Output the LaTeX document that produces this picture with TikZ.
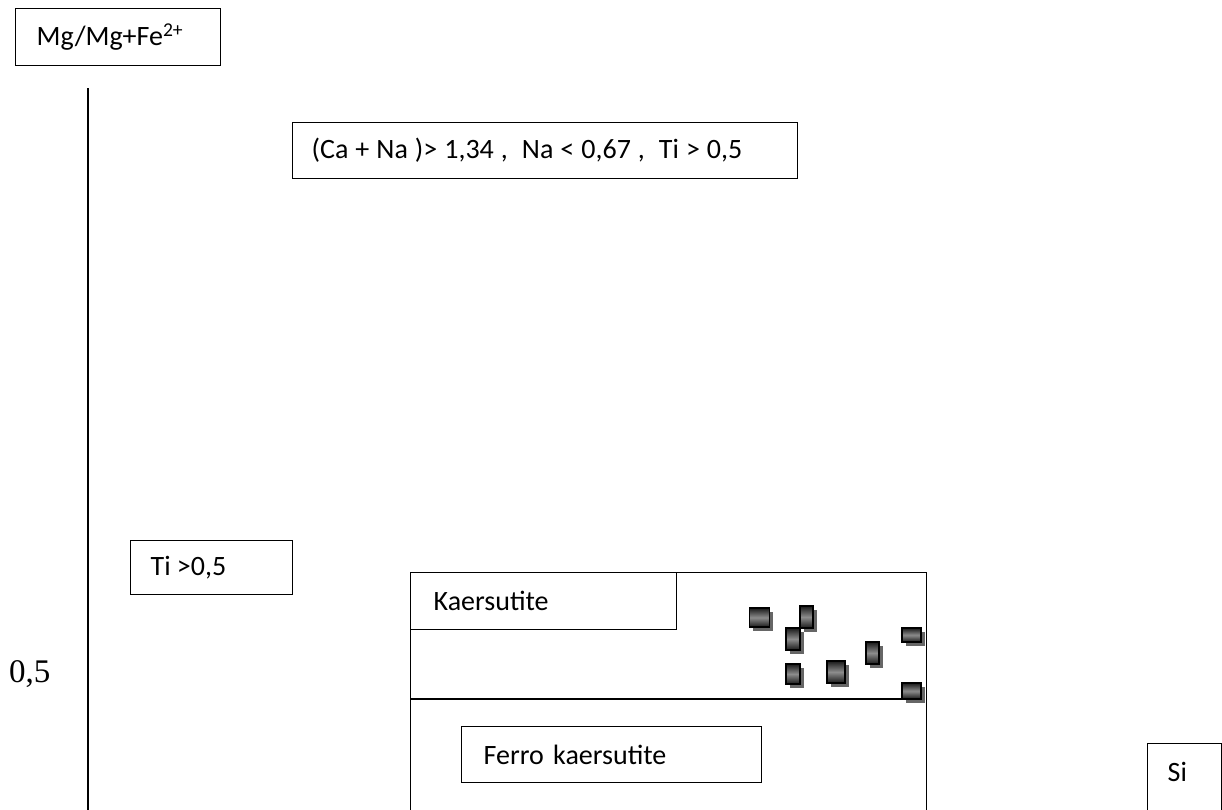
\documentclass[tikz,border=0pt]{standalone}
\usepackage{fontspec}
\setmainfont{Carlito}
\newfontfamily\axisfont{Liberation Serif}
\usetikzlibrary{shadows}

\begin{document}
\begin{tikzpicture}[x=1pt,y=-1pt,
  label box/.style={draw, line width=1.3pt, rectangle, anchor=north west,
    align=left, inner ysep=0pt, font=\fontsize{28}{32}\selectfont},
  frame/.style={draw, line width=1.3pt, rectangle, anchor=north west, inner sep=0pt},
  sample/.style={draw, line width=1.9pt, inner sep=0pt,
    top color=black!90, bottom color=black!90, middle color=black!45,
    drop shadow={shadow xshift=3.5pt, shadow yshift=-3.5pt, fill=black!60, opacity=1}},
  axis line/.style={line width=1.3pt}]

\useasboundingbox (0,0) rectangle (1222,809);
\fill[white] (0,0) rectangle (1222,809);
\clip (0,0) rectangle (1222,809);

% y-axis title and axis
\node[label box, inner xsep=21pt, text width=163pt, minimum height=57pt] (ytitle) at (15,8)
  {Mg/Mg+Fe\textsuperscript{2+}};
\coordinate (axtop) at (88,88);
\coordinate (axbot) at (88,820);
\draw[axis line] (axtop) -- (axbot);
\node[font=\axisfont\fontsize{33}{36}\selectfont, anchor=base west, inner sep=0pt] (half) at (9,682) {0,5};

% conditions
\node[label box, inner xsep=19pt, text width=467pt, minimum height=56pt] (cond) at (292,122)
  {\spaceskip=0.25em\relax (Ca + Na )> 1,34 ,\ \ Na < 0,67 ,\ \ Ti > 0,5};
\node[label box, inner xsep=20pt, text width=122pt, minimum height=54pt] (ti) at (130,540)
  {\spaceskip=0.22em\relax Ti >0,5};

% classification field
\node[frame, minimum width=516pt, minimum height=300pt] (field) at (410,572) {};
\node[label box, inner xsep=23pt, text width=220pt, minimum height=57pt] (kaer) at (410,572)
  {Kaersutite};
\node[label box, inner xsep=22pt, text width=256pt, minimum height=56pt] (ferro) at (461,726)
  {Ferro kaersutite};

% x-axis label
\node[label box, inner xsep=20pt, text width=34pt, text height=38pt, text depth=90pt] (si) at (1147,743)
  {Si};

% analysed samples
\node[sample, minimum width=20pt, minimum height=19pt] (m1) at (759.5,617.5) {};
\node[sample, minimum width=13pt, minimum height=22pt] (m2) at (806.5,617) {};
\node[sample, minimum width=14pt, minimum height=22pt] (m3) at (793,639) {};
\node[sample, minimum width=14pt, minimum height=20pt] (m4) at (793,674) {};
\node[sample, minimum width=18pt, minimum height=22pt] (m5) at (836,672) {};
\node[sample, minimum width=13pt, minimum height=22pt] (m6) at (872.5,653) {};
\node[sample, minimum width=19pt, minimum height=14pt] (m7) at (911.5,635) {};

% Mg/Fe boundary
\coordinate (divL) at (410,699);
\draw[axis line] (divL) -- (divL -| 903,0);
\node[sample, minimum width=19pt, minimum height=16pt] (m8) at (911.5,691) {};

\end{tikzpicture}
\end{document}
